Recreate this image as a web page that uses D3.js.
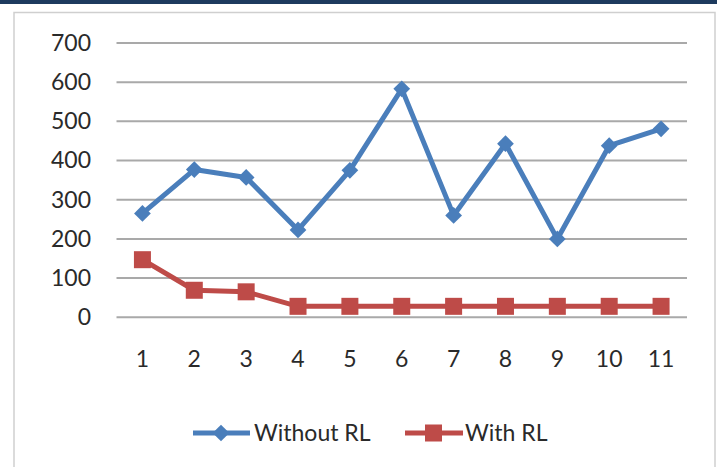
<!DOCTYPE html>
<html><head><meta charset="utf-8">
<script src="https://cdn.jsdelivr.net/npm/d3@7"></script>
<style>
html,body{margin:0;padding:0;background:#fff;}
svg{display:block;font-family:Lato,"Open Sans",sans-serif;}
</style></head>
<body>
<svg id="chart" width="717" height="467"></svg>
<script>
(function(){
const categories = ["1","2","3","4","5","6","7","8","9","10","11"];
const withoutRL = [265, 377, 357, 223, 375, 583, 260, 443, 200, 438, 481];
const withRL = [147, 69, 65, 28, 28, 28, 28, 28, 28, 28, 28];
const yTicks = [0, 100, 200, 300, 400, 500, 600, 700];
const seriesNames = ["Without RL", "With RL"];

const svg = d3.select("#chart");
const W = 717, H = 467;
const fs = 23, txt = "#2a2a2a";

// top dark band
svg.append("rect").attr("x",0).attr("y",0).attr("width",W).attr("height",4).attr("fill","#1d3a5e");
// chart frame
svg.append("rect").attr("x",14).attr("y",12.5).attr("width",701).attr("height",470)
  .attr("fill","#fff").attr("stroke","#cfcfcf").attr("stroke-width",1.5);

const pLeft = 116.5, pRight = 687, pTop = 43, pBottom = 317.3;
const x = d3.scaleBand().domain(categories).range([pLeft, pRight]);
const y = d3.scaleLinear().domain([0, 700]).range([pBottom, pTop]);

// gridlines
svg.append("g").selectAll("line").data(yTicks).join("line")
  .attr("x1", pLeft).attr("x2", pRight)
  .attr("y1", d => y(d)).attr("y2", d => y(d))
  .attr("stroke", "#a9a9a9").attr("stroke-width", 2);

// y axis labels
const yAxis = d3.axisLeft(y).tickValues(yTicks).tickSize(0).tickPadding(0);
const gy = svg.append("g").attr("transform", `translate(91,0)`).call(yAxis);
gy.select(".domain").remove();
gy.selectAll("text").attr("font-family","Lato,sans-serif").attr("font-size",fs).attr("fill",txt);

// x axis labels
const xAxis = d3.axisBottom(x).tickSize(0).tickPadding(0);
const gx = svg.append("g").attr("transform", `translate(0,${pBottom+33})`).call(xAxis);
gx.select(".domain").remove();
gx.selectAll("text").attr("font-family","Lato,sans-serif").attr("font-size",fs).attr("fill",txt);

const cx = d => x(d) + x.bandwidth()/2;
const line = d3.line().x((d,i) => cx(categories[i])).y(d => y(d));

const blue = "#4a7ebb", red = "#be4b48";
const lw = 5;

// without RL
svg.append("path").datum(withoutRL).attr("d", line).attr("fill","none")
  .attr("stroke", blue).attr("stroke-width", lw).attr("stroke-linejoin","round");
svg.append("g").selectAll("path").data(withoutRL).join("path")
  .attr("d", d3.symbol().type(d3.symbolSquare).size(140))
  .attr("transform", (d,i) => `translate(${cx(categories[i])},${y(d)}) rotate(45)`)
  .attr("fill", blue);

// with RL
svg.append("path").datum(withRL).attr("d", line).attr("fill","none")
  .attr("stroke", red).attr("stroke-width", lw).attr("stroke-linejoin","round");
svg.append("g").selectAll("rect").data(withRL).join("rect")
  .attr("x", (d,i) => cx(categories[i]) - 8.5).attr("y", d => y(d) - 8.5)
  .attr("width", 17).attr("height", 17).attr("fill", red);

// legend
const ly = 433;
const lg = svg.append("g");
lg.append("line").attr("x1",193).attr("x2",250).attr("y1",ly).attr("y2",ly).attr("stroke",blue).attr("stroke-width",lw);
lg.append("path").attr("d", d3.symbol().type(d3.symbolSquare).size(140)).attr("transform",`translate(221,${ly}) rotate(45)`).attr("fill",blue);
lg.append("text").attr("x",254).attr("y",ly).attr("dy","0.36em").attr("font-size",fs).attr("fill",txt).text(seriesNames[0]);
lg.append("line").attr("x1",405).attr("x2",463).attr("y1",ly).attr("y2",ly).attr("stroke",red).attr("stroke-width",lw);
lg.append("rect").attr("x",425).attr("y",ly-8.5).attr("width",17).attr("height",17).attr("fill",red);
lg.append("text").attr("x",465).attr("y",ly).attr("dy","0.36em").attr("font-size",fs).attr("fill",txt).text(seriesNames[1]);
})();
</script>
</body></html>
